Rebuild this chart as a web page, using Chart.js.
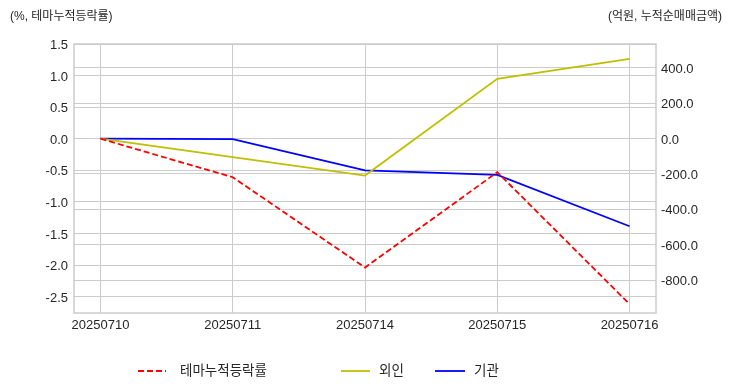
<!DOCTYPE html>
<html>
<head>
<meta charset="utf-8">
<script src="https://cdn.jsdelivr.net/npm/chart.js@4/dist/chart.umd.min.js"></script>
<style>
  body { margin: 0; background: #fff; }
  canvas { display: block; }
</style>
</head>
<body>
<canvas id="graficoTema" width="732" height="392"></canvas>
<script>
const fechas = ['20250710', '20250711', '20250714', '20250715', '20250716'];
const temaAcum = [0, -0.61, -2.04, -0.53, -2.62];      // %, left axis
const extranjeros = [0, -105, -209, 337, 450];         // 외인, right axis
const institucion = [0, -3, -180, -205, -495];         // 기관, right axis
const ticksIzq = [1.5, 1.0, 0.5, 0.0, -0.5, -1.0, -1.5, -2.0, -2.5];
const ticksDer = [400, 200, 0, -200, -400, -600, -800];
const tituloIzq = '(%, 테마누적등락률)';
const tituloDer = '(억원, 누적순매매금액)';
const nombres = ['테마누적등락률', '외인', '기관'];

const FUENTE = "'Liberation Sans', 'Noto Sans CJK KR', sans-serif";
const GRIS = '#cccccc';
const TEXTO = '#262626';

const puntos = (arr) => arr.map((v, i) => ({ x: i, y: v }));

// titles above the axes + frame + legend row (matplotlib-like)
const extras = {
    id: 'extras',
    beforeDatasetsDraw(chart) {
        const { ctx, chartArea: a } = chart;
        ctx.save();
        ctx.strokeStyle = GRIS;
        ctx.lineWidth = 1.5;
        ctx.strokeRect(a.left, a.top, a.right - a.left, a.bottom - a.top);
        ctx.restore();
    },
    afterDraw(chart) {
        const ctx = chart.ctx;
        ctx.save();
        ctx.fillStyle = TEXTO;
        ctx.font = '12px ' + FUENTE;
        ctx.textBaseline = 'middle';
        ctx.textAlign = 'left';
        ctx.fillText(tituloIzq, 10, 17);
        ctx.textAlign = 'right';
        ctx.fillText(tituloDer, 722, 17);

        // legend
        const items = [
            { ds: 0, x0: 138, x1: 166, tx: 180 },
            { ds: 1, x0: 341, x1: 370, tx: 379 },
            { ds: 2, x0: 435, x1: 465, tx: 474 }
        ];
        const y = 371;
        ctx.font = '13.5px ' + FUENTE;
        ctx.textAlign = 'left';
        items.forEach(it => {
            const ds = chart.data.datasets[it.ds];
            ctx.strokeStyle = ds.borderColor;
            ctx.lineWidth = ds.borderWidth;
            ctx.setLineDash(ds.borderDash || []);
            ctx.beginPath();
            ctx.moveTo(it.x0, y);
            ctx.lineTo(it.x1, y);
            ctx.stroke();
            ctx.setLineDash([]);
            ctx.fillStyle = TEXTO;
            ctx.fillText(ds.label, it.tx, y);
        });
        ctx.restore();
    }
};

const ctx = document.getElementById('graficoTema').getContext('2d');

window.miGrafico = new Chart(ctx, {
    type: 'line',
    data: {
        datasets: [{
            label: nombres[0],
            data: puntos(temaAcum),
            yAxisID: 'y',
            borderColor: '#ff0000',
            borderWidth: 1.8,
            borderDash: [6, 3],
            pointRadius: 0,
            tension: 0
        }, {
            label: nombres[1],
            data: puntos(extranjeros),
            yAxisID: 'y1',
            borderColor: '#bfbf00',
            borderWidth: 1.8,
            pointRadius: 0,
            tension: 0
        }, {
            label: nombres[2],
            data: puntos(institucion),
            yAxisID: 'y1',
            borderColor: '#0000ff',
            borderWidth: 1.8,
            pointRadius: 0,
            tension: 0
        }]
    },
    options: {
        responsive: false,
        animation: false,
        devicePixelRatio: 1,
        layout: {
            padding: { top: 44, bottom: 59, left: 0, right: 0 }
        },
        plugins: {
            legend: { display: false },
            tooltip: { enabled: false }
        },
        scales: {
            x: {
                type: 'linear',
                min: -0.2,
                max: 4.2,
                afterBuildTicks: (s) => { s.ticks = fechas.map((f, i) => ({ value: i })); },
                afterFit: (s) => { s.height = 20; },
                grid: { color: GRIS, lineWidth: 1, drawTicks: false },
                border: { display: false },
                ticks: {
                    padding: 5,
                    color: TEXTO,
                    font: { family: FUENTE, size: 13 },
                    maxRotation: 0,
                    callback: (v) => fechas[v]
                }
            },
            y: {
                position: 'left',
                min: -2.76,
                max: 1.5,
                afterBuildTicks: (s) => { s.ticks = ticksIzq.map(v => ({ value: v })); },
                afterFit: (s) => { s.width = 74; },
                grid: { color: GRIS, lineWidth: 1, drawTicks: false },
                border: { display: false },
                ticks: {
                    padding: 6,
                    labelOffset: 1.5,
                    color: TEXTO,
                    font: { family: FUENTE, size: 13 },
                    callback: (v) => v.toFixed(1)
                }
            },
            y1: {
                position: 'right',
                min: -985,
                max: 534,
                afterBuildTicks: (s) => { s.ticks = ticksDer.map(v => ({ value: v })); },
                afterFit: (s) => { s.width = 76; },
                grid: { color: GRIS, lineWidth: 1, drawTicks: false },
                border: { display: false },
                ticks: {
                    padding: 5,
                    labelOffset: 1.5,
                    color: TEXTO,
                    font: { family: FUENTE, size: 13 },
                    callback: (v) => v.toFixed(1)
                }
            }
        }
    },
    plugins: [extras]
});
</script>
</body>
</html>
